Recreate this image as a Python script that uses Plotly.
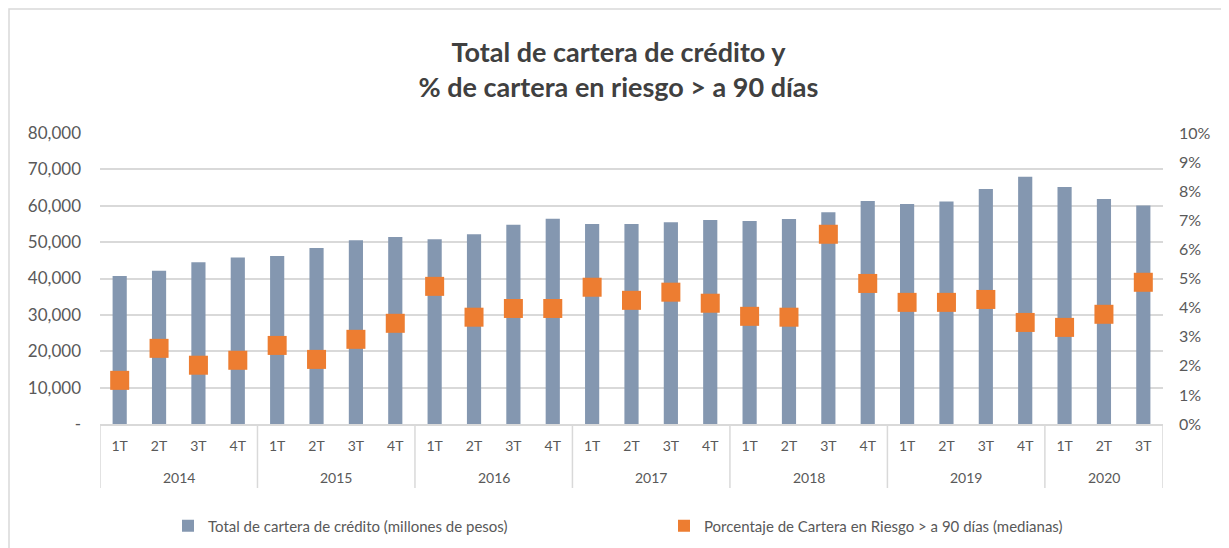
import plotly.graph_objects as go

years_list = ["2014", "2015", "2016", "2017", "2018", "2019", "2020"]
quarters_per_year = [4, 4, 4, 4, 4, 4, 3]
quarters = ["1T", "2T", "3T", "4T"] * 6 + ["1T", "2T", "3T"]

cartera = [40700, 42150, 44450, 45800, 46200, 48400, 50500, 51400,
           50800, 52150, 54800, 56450, 55000, 55000, 55450, 56100,
           55800, 56350, 58200, 61300, 60500, 61200, 64600, 68000,
           65150, 61850, 60100]

riesgo = [1.50, 2.60, 2.02, 2.19, 2.70, 2.22, 2.91, 3.46,
          4.73, 3.67, 3.97, 3.97, 4.70, 4.25, 4.53, 4.15,
          3.70, 3.67, 6.52, 4.83, 4.18, 4.18, 4.28, 3.49,
          3.32, 3.77, 4.87]

left_ticks = [0, 10000, 20000, 30000, 40000, 50000, 60000, 70000, 80000]
left_labels = ["-", "10,000", "20,000", "30,000", "40,000", "50,000", "60,000", "70,000", "80,000"]
right_ticks = [0, 1, 2, 3, 4, 5, 6, 7, 8, 9, 10]
right_labels = [f"{v}%" for v in right_ticks]

FONT = "Lato"
TXT = "#595959"
GRID = "#D9D9D9"

# figure geometry (page has 8px body margin)
W, H = 1221, 540
L, R, T, B = 92, 66, 125, 124
PW, PH = W - L - R, H - T - B

idx = list(range(len(quarters)))

fig = go.Figure()
fig.add_trace(go.Bar(
    x=idx, y=cartera,
    name="Total de cartera de crédito (millones de pesos)",
    marker=dict(color="#8497B0", line=dict(width=0)),
    width=0.36,
))
fig.add_trace(go.Scatter(
    x=idx, y=riesgo, yaxis="y2", mode="markers",
    name="Porcentaje de Cartera en Riesgo > a 90 días (medianas)",
    marker=dict(symbol="square", size=19, color="#ED7D31"),
))

# year group labels and dividers
annotations = []
shapes = []
start = 0
bounds = [-0.5]
for yr, n in zip(years_list, quarters_per_year):
    center = start + (n - 1) / 2
    annotations.append(dict(
        x=center, xref="x", y=-53 / PH, yref="paper",
        text=yr, showarrow=False, xanchor="center", yanchor="middle",
        font=dict(family=FONT, size=14, color=TXT),
    ))
    start += n
    bounds.append(start - 0.5)
for b in bounds:
    shapes.append(dict(
        type="line", xref="x", yref="paper",
        x0=b, x1=b, y0=0, y1=-64 / PH,
        line=dict(color=GRID, width=1.5),
    ))
# outer chart border
shapes.append(dict(
    type="rect", xref="paper", yref="paper",
    x0=(1 - L) / PW, x1=(W - 1 - L) / PW,
    y0=-0.5, y1=(PH + T - 1) / PH,
    line=dict(color=GRID, width=1.5), layer="below",
))

fig.update_layout(
    width=W, height=H,
    margin=dict(l=L, r=R, t=T, b=B, autoexpand=False),
    paper_bgcolor="white", plot_bgcolor="white",
    font=dict(family=FONT, color=TXT, size=14),
    title=dict(
        text="<b>Total de cartera de crédito y<br>% de cartera en riesgo > a 90 días</b>",
        x=0.5, xanchor="center", xref="container",
        y=0.9, yanchor="middle", yref="container",
        font=dict(family=FONT, size=27, color="#404040"),
    ),
    showlegend=True,
    legend=dict(
        orientation="h", x=160 / W, xanchor="left", xref="container",
        y=-102 / PH, yanchor="middle",
        font=dict(size=15, color=TXT),
        entrywidth=451, entrywidthmode="pixels",
        itemsizing="constant",
    ),
    xaxis=dict(
        range=[-0.5, len(quarters) - 0.5],
        tickvals=idx, ticktext=quarters,
        showline=True, linecolor=GRID, linewidth=1.5,
        ticks="", showgrid=False, zeroline=False, tickangle=0,
        tickfont=dict(size=14, color=TXT), ticklabelstandoff=8,
    ),
    yaxis=dict(
        range=[0, 80000], tickvals=left_ticks, ticktext=left_labels,
        showgrid=True, gridcolor=GRID, gridwidth=1.5,
        zeroline=False, showline=False,
        tickfont=dict(size=17, color=TXT), ticklabelstandoff=18,
    ),
    yaxis2=dict(
        overlaying="y", side="right",
        range=[0, 10], tickvals=right_ticks, ticktext=right_labels,
        showgrid=False, zeroline=False, showline=False,
        tickfont=dict(size=16, color=TXT), ticklabelstandoff=15,
    ),
    annotations=annotations,
    shapes=shapes,
)

fig.write_html("out.html")
